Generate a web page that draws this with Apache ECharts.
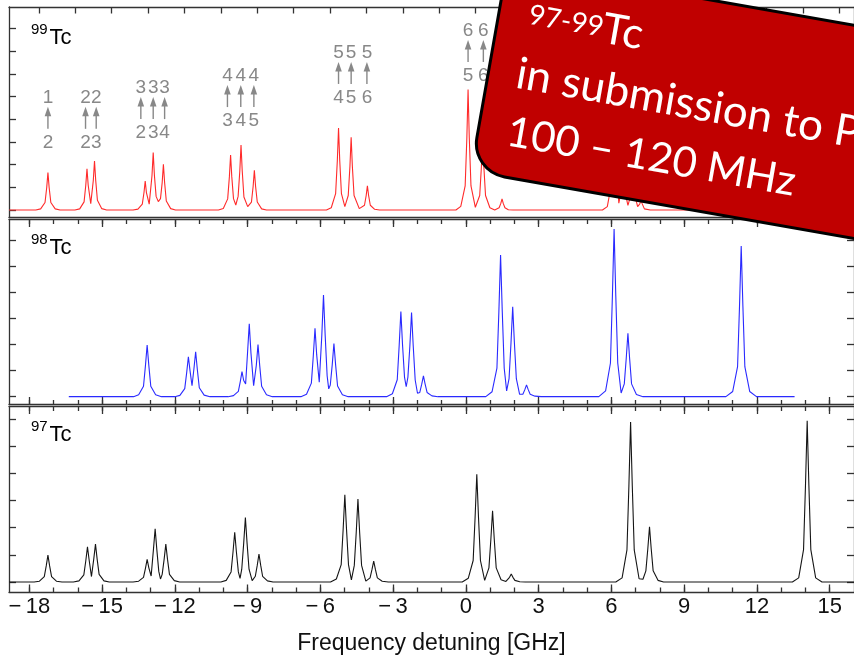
<!DOCTYPE html>
<html><head><meta charset="utf-8">
<script src="https://cdn.jsdelivr.net/npm/echarts@6/dist/echarts.min.js"></script>
<style>html,body{margin:0;padding:0;background:#fff}#c{width:854px;height:656px}</style>
</head><body><div id="c"></div><script>
// ---------- data ----------
const xTicksMajor = [-18,-15,-12,-9,-6,-3,0,3,6,9,12,15];
const xTicksMinor = [-18,-17,-16,-15,-14,-13,-12,-11,-10,-9,-8,-7,-6,-5,-4,-3,-2,-1,0,1,2,3,4,5,6,7,8,9,10,11,12,13,14,15];
const topTicks99 = [-17.6,-16.1,-14.6,-13.1,-11.6,-10.1,-8.6,-7.1,-5.6,-4.1,-2.6,-1.1,0.4,1.9,3.4,4.9,6.4,7.9,9.4,10.9,12.4,13.9,15.4];
const yTicks99 = [0,1,2,3,4,5,6,7,8];
const yTicks98 = [0,1,2,3,4,5,6];
const yTicks97 = [0,1,2,3,4,5,6];

const annX     = [-17.23,-15.68,-15.24,-13.40,-12.89,-12.42,-9.83,-9.28,-8.74,-5.25,-4.73,-4.08,0.09,0.72];
const annY     = [4.97,4.97,4.97,5.40,5.40,5.40,5.93,5.93,5.93,6.95,6.95,6.95,7.92,7.92];
const annUpper = ['1','2','2','3','3','3','4','4','4','5','5','5','6','6'];
const annLower = ['2','2','3','2','3','4','3','4','5','4','5','6','5','6'];

const spectrum99 = [
[-18.83,0],[-17.73,0],
[-17.53,0.05],[-17.35,0.33],[-17.28,0.99],[-17.23,1.65],[-17.18,0.99],[-17.11,0.33],[-16.93,0.05],[-16.73,0],
[-16.12,0],[-15.92,0.05],[-15.74,0.36],[-15.67,1.09],[-15.62,1.82],[-15.57,1.09],[-15.465,0.28],[-15.36,1.30],[-15.31,2.16],[-15.26,1.30],[-15.19,0.43],[-15.01,0.06],[-14.81,0],
[-13.72,0],[-13.52,0.04],[-13.34,0.26],[-13.27,0.77],[-13.22,1.28],[-13.17,0.77],[-13.055,0.26],[-12.94,1.52],[-12.89,2.54],[-12.84,1.52],[-12.77,0.6],[-12.68,0.37],[-12.59,0.5],[-12.52,1.21],[-12.47,2.02],[-12.42,1.21],[-12.35,0.4],[-12.17,0.06],[-11.97,0],
[-10.2,0],[-10.0,0.07],[-9.82,0.49],[-9.75,1.46],[-9.70,2.43],[-9.65,1.46],[-9.58,0.5],[-9.485,0.22],[-9.39,0.6],[-9.32,1.72],[-9.27,2.87],[-9.22,1.72],[-9.15,0.57],[-8.995,0.15],[-8.84,0.35],[-8.77,1.05],[-8.72,1.75],[-8.67,1.05],[-8.60,0.35],[-8.42,0.05],[-8.22,0],
[-5.75,0],[-5.55,0.1],[-5.37,0.72],[-5.30,2.17],[-5.25,3.62],[-5.20,2.17],[-5.13,0.72],[-4.99,0.15],[-4.85,0.64],[-4.78,1.93],[-4.73,3.21],[-4.68,1.93],[-4.61,0.64],[-4.395,0.06],[-4.18,0.21],[-4.11,0.64],[-4.06,1.07],[-4.01,0.64],[-3.94,0.21],[-3.76,0.03],[-3.56,0],
[-0.41,0],[-0.21,0.16],[-0.03,1.06],[0.04,3.19],[0.09,5.32],[0.14,3.19],[0.21,1.06],[0.39,0.12],[0.57,0.64],[0.64,1.92],[0.69,3.2],[0.74,1.92],[0.81,0.64],[0.99,0.1],[1.19,0],
[1.25,0.02],[1.37,0.1],[1.44,0.29],[1.49,0.49],[1.54,0.29],[1.61,0.1],[1.75,0.01],[1.95,0],
[5.63,0],[5.83,0.15],[6.01,1.2],[6.08,3.6],[6.13,6.0],[6.18,3.6],[6.25,1.2],[6.305,0.3],[6.36,0.6],[6.43,1.8],[6.48,3.0],[6.53,1.8],[6.60,0.6],[6.68,0.2],[6.76,0.5],[6.83,1.5],[6.88,2.5],[6.93,1.5],[7.0,0.5],[7.08,0.15],[7.17,0.27],[7.22,0.45],[7.27,0.27],[7.36,0.05],[7.6,0],
[9.5,0]
];

const spectrum98 = [
[-16.37,0],[-13.7,0],
[-13.49,0.07],[-13.29,0.4],[-13.21,1.19],[-13.14,1.98],[-13.07,1.19],[-12.99,0.4],[-12.79,0.07],[-12.55,0],
[-12.0,0],[-11.79,0.05],[-11.59,0.31],[-11.51,0.92],[-11.44,1.53],[-11.37,0.98],[-11.29,0.42],[-11.21,1.08],[-11.14,1.72],[-11.07,1.03],[-10.99,0.34],[-10.79,0.06],[-10.55,0],
[-9.8,0],[-9.58,0.04],[-9.38,0.2],[-9.30,0.58],[-9.23,0.96],[-9.16,0.62],[-9.08,0.49],[-9.00,1.7],[-8.93,2.79],[-8.86,1.67],[-8.75,0.42],[-8.64,1.2],[-8.57,2.0],[-8.50,1.2],[-8.42,0.4],[-8.22,0.07],[-7.98,0],
[-6.8,0],[-6.57,0.09],[-6.37,0.52],[-6.29,1.57],[-6.22,2.62],[-6.15,1.6],[-6.045,0.55],[-5.94,2.34],[-5.87,3.90],[-5.80,2.34],[-5.72,0.8],[-5.655,0.3],[-5.59,0.45],[-5.51,1.22],[-5.44,2.04],[-5.37,1.22],[-5.29,0.41],[-5.09,0.07],[-4.85,0],
[-3.27,0],[-3.03,0.11],[-2.83,0.65],[-2.75,1.96],[-2.68,3.26],[-2.61,1.96],[-2.53,0.75],[-2.46,0.38],[-2.39,0.75],[-2.31,1.93],[-2.24,3.22],[-2.17,1.93],[-2.09,0.64],[-1.995,0.13],[-1.90,0.16],[-1.82,0.48],[-1.75,0.80],[-1.68,0.48],[-1.60,0.16],[-1.40,0.03],[-1.15,0],
[0.82,0],[1.08,0.19],[1.28,1.09],[1.36,3.26],[1.43,5.43],[1.50,3.26],[1.58,1.09],[1.68,0.22],[1.78,0.69],[1.86,2.07],[1.93,3.45],[2.00,2.07],[2.08,0.69],[2.215,0.09],[2.35,0.09],[2.43,0.27],[2.50,0.45],[2.57,0.27],[2.65,0.09],[2.85,0.02],[3.1,0],
[5.48,0],[5.76,0.22],[5.96,1.29],[6.04,3.86],[6.11,6.43],[6.18,3.86],[6.26,1.29],[6.40,0.14],[6.53,0.49],[6.61,1.46],[6.68,2.43],[6.75,1.46],[6.83,0.49],[7.03,0.08],[7.3,0],
[10.72,0],[11.00,0.2],[11.20,1.15],[11.28,3.46],[11.35,5.77],[11.42,3.46],[11.50,1.15],[11.70,0.2],[11.98,0],
[13.55,0]
];

const spectrum97 = [
[-18.83,0],[-17.8,0],
[-17.58,0.03],[-17.38,0.2],[-17.30,0.59],[-17.23,0.99],[-17.16,0.59],[-17.08,0.2],[-16.88,0.03],[-16.65,0],
[-16.18,0],[-15.95,0.04],[-15.75,0.26],[-15.67,0.77],[-15.60,1.29],[-15.53,0.8],[-15.435,0.2],[-15.34,0.85],[-15.27,1.39],[-15.20,0.83],[-15.12,0.28],[-14.92,0.04],[-14.7,0],
[-13.72,0],[-13.49,0.03],[-13.29,0.17],[-13.21,0.5],[-13.14,0.83],[-13.07,0.52],[-12.975,0.22],[-12.88,1.2],[-12.81,1.96],[-12.74,1.18],[-12.66,0.39],[-12.59,0.11],[-12.52,0.28],[-12.44,0.83],[-12.37,1.39],[-12.30,0.83],[-12.22,0.28],[-12.02,0.05],[-11.8,0],
[-10.1,0],[-9.88,0.06],[-9.68,0.37],[-9.60,1.1],[-9.53,1.83],[-9.46,1.1],[-9.38,0.37],[-9.31,0.13],[-9.24,0.47],[-9.16,1.42],[-9.09,2.37],[-9.02,1.42],[-8.94,0.47],[-8.81,0.05],[-8.68,0.21],[-8.60,0.62],[-8.53,1.03],[-8.46,0.62],[-8.38,0.21],[-8.18,0.04],[-7.95,0],
[-5.58,0],[-5.34,0.11],[-5.14,0.64],[-5.06,1.93],[-4.99,3.21],[-4.92,1.93],[-4.84,0.64],[-4.72,0.08],[-4.60,0.61],[-4.52,1.83],[-4.45,3.05],[-4.38,1.83],[-4.30,0.61],[-4.125,0.03],[-3.95,0.15],[-3.87,0.46],[-3.80,0.77],[-3.73,0.46],[-3.65,0.15],[-3.45,0.03],[-3.2,0],
[-0.15,0],[0.10,0.14],[0.30,0.79],[0.38,2.38],[0.45,3.96],[0.52,2.38],[0.60,0.79],[0.775,0.06],[0.95,0.52],[1.03,1.57],[1.10,2.62],[1.17,1.57],[1.25,0.52],[1.45,0.08],[1.65,0.02],[1.72,0.06],[1.80,0.17],[1.87,0.29],[1.94,0.17],[2.02,0.06],[2.22,0.01],[2.45,0],
[6.18,0],[6.44,0.15],[6.64,1.18],[6.72,3.53],[6.79,5.88],[6.86,3.53],[6.94,1.18],[7.14,0.12],[7.2,0.06],[7.30,0.1],[7.42,0.41],[7.50,1.22],[7.57,2.03],[7.64,1.22],[7.72,0.41],[7.92,0.06],[8.15,0],
[13.46,0],[13.72,0.15],[13.92,1.19],[14.00,3.56],[14.07,5.93],[14.14,3.56],[14.22,1.19],[14.42,0.15],[14.68,0],
[16,0]
];

// ---------- layout / style ----------
const X_MIN = -18.835, X_MAX = 16.0;
const FRAME = {color:'#333', width:1.3};
const FONT = '"Liberation Sans", Arial, sans-serif';
const BANNER_FONT = 'Lato, "Open Sans", sans-serif';

function xAx(grid, pos, ticks, len, showLine, extra) {
  return Object.assign({
    type:'value', gridIndex:grid, position:pos, min:X_MIN, max:X_MAX,
    axisLine:{show:showLine, onZero:false, lineStyle:FRAME},
    axisTick:ticks ? {show:true, inside:true, length:len, customValues:ticks, lineStyle:FRAME} : {show:false},
    axisLabel:{show:false}, splitLine:{show:false}
  }, extra || {});
}
function yAx(grid, pos, min, max, ticks) {
  return {
    type:'value', gridIndex:grid, position:pos, min:min, max:max,
    axisLine:{show:true, onZero:false, lineStyle:FRAME},
    axisTick:{show:true, inside:true, length:7, customValues:ticks, lineStyle:FRAME},
    axisLabel:{show:false}, splitLine:{show:false}
  };
}

const xAxes = [
  xAx(0,'bottom',null,0,true),
  xAx(0,'top',topTicks99,6.5,true),
  xAx(1,'bottom',xTicksMajor,7.5,true),
  xAx(1,'bottom',xTicksMinor,4.5,false),
  xAx(1,'top',xTicksMajor,7.5,true),
  xAx(1,'top',xTicksMinor,4.5,false),
  xAx(2,'bottom',xTicksMajor,7.5,true,{
    axisLabel:{show:true, customValues:xTicksMajor, margin:4, color:'#111', fontSize:22, fontFamily:FONT,
      formatter: v => v < 0 ? '\u2212\u2009' + (-v) : String(v)},
    name:'Frequency detuning [GHz]', nameLocation:'middle', nameGap:40,
    nameTextStyle:{fontSize:23, fontFamily:FONT, color:'#111'}
  }),
  xAx(2,'bottom',xTicksMinor,4.5,false),
  xAx(2,'top',xTicksMajor,7.5,true),
  xAx(2,'top',xTicksMinor,4.5,false)
];
xAxes[6].axisTick.customValues = xTicksMajor;

const yAxes = [
  yAx(0,'left',-0.331,8.955,yTicks99), yAx(0,'right',-0.331,8.955,yTicks99),
  yAx(1,'left',-0.30,6.79,yTicks98),   yAx(1,'right',-0.30,6.79,yTicks98),
  yAx(2,'left',-0.368,6.452,yTicks97), yAx(2,'right',-0.368,6.452,yTicks97)
];

const annData = annX.map((x,i) => [x, annY[i], i]);
const GRAY = '#888888';

function renderAnn(params, api) {
  const i = api.value(2);
  const p = api.coord([api.value(0), api.value(1)]);
  const x = p[0], y = p[1];
  return {type:'group', children:[
    {type:'text', x:x, y:y, style:{text:annUpper[i], fill:GRAY, font:'19px ' + FONT, align:'center', verticalAlign:'middle'}},
    {type:'line', shape:{x1:x, y1:y+31.5, x2:x, y2:y+17}, style:{stroke:GRAY, lineWidth:1.4}},
    {type:'polygon', shape:{points:[[x,y+9.5],[x-3.3,y+19],[x+3.3,y+19]]}, style:{fill:GRAY}},
    {type:'text', x:x, y:y+45, style:{text:annLower[i], fill:GRAY, font:'19px ' + FONT, align:'center', verticalAlign:'middle'}}
  ]};
}

function lineSeries(xi, yi, data, color) {
  return {type:'line', xAxisIndex:xi, yAxisIndex:yi, data:data, showSymbol:false, symbol:'none',
    lineStyle:{color:color, width:1.1}, clip:true, silent:true, z:3};
}

const DEG = Math.PI / 180;
const BZ = {zlevel:5, z:100};
const option = {
  animation:false,
  grid:[
    {left:9, top:7, width:846, height:210.5},
    {left:9, top:219.5, width:846, height:185},
    {left:9, top:406.5, width:846, height:185.5}
  ],
  xAxis:xAxes,
  yAxis:yAxes,
  series:[
    lineSeries(0,0,spectrum99,'#ff2a2a'),
    lineSeries(2,2,spectrum98,'#2a2aff'),
    lineSeries(6,4,spectrum97,'#151515'),
    {type:'custom', xAxisIndex:0, yAxisIndex:0, data:annData, renderItem:renderAnn, clip:false, silent:true, z:4}
  ],
  graphic:[
    {type:'text', x:31, y:29.5, z:10, style:{text:'99', fill:'#000', font:'15px ' + FONT, verticalAlign:'middle'}},
    {type:'text', x:49.5, y:38, z:10, style:{text:'Tc', fill:'#000', font:'22px ' + FONT, verticalAlign:'middle'}},
    {type:'text', x:31, y:239.5, z:10, style:{text:'98', fill:'#000', font:'15px ' + FONT, verticalAlign:'middle'}},
    {type:'text', x:49.5, y:248, z:10, style:{text:'Tc', fill:'#000', font:'22px ' + FONT, verticalAlign:'middle'}},
    {type:'text', x:31, y:427, z:10, style:{text:'97', fill:'#000', font:'15px ' + FONT, verticalAlign:'middle'}},
    {type:'text', x:49.5, y:435, z:10, style:{text:'Tc', fill:'#000', font:'22px ' + FONT, verticalAlign:'middle'}},
    {type:'group', x:471, y:171, rotation:-10 * DEG, zlevel:5, z:100, children:[
      Object.assign({type:'rect', shape:{x:0, y:-210, width:700, height:210, r:34}, style:{fill:'#C00000', stroke:'#000', lineWidth:3}}, BZ),
      Object.assign({type:'text', x:30, y:-164, style:{text:'97-99', fill:'#fff', font:'28px ' + BANNER_FONT, verticalAlign:'middle'}}, BZ),
      Object.assign({type:'text', x:105, y:-163, style:{text:'Tc', fill:'#fff', font:'43px ' + BANNER_FONT, verticalAlign:'middle'}}, BZ),
      Object.assign({type:'text', x:28, y:-104, style:{text:'in submission to PRL', fill:'#fff', font:'44px ' + BANNER_FONT, verticalAlign:'middle'}}, BZ),
      Object.assign({type:'text', x:29, y:-45, style:{text:'100 \u2013 120 MHz', fill:'#fff', font:'42px ' + BANNER_FONT, verticalAlign:'middle'}}, BZ)
    ]}
  ]
};

const chart = echarts.init(document.getElementById('c'), null, {renderer:'canvas'});
chart.setOption(option);
</script></body></html>
